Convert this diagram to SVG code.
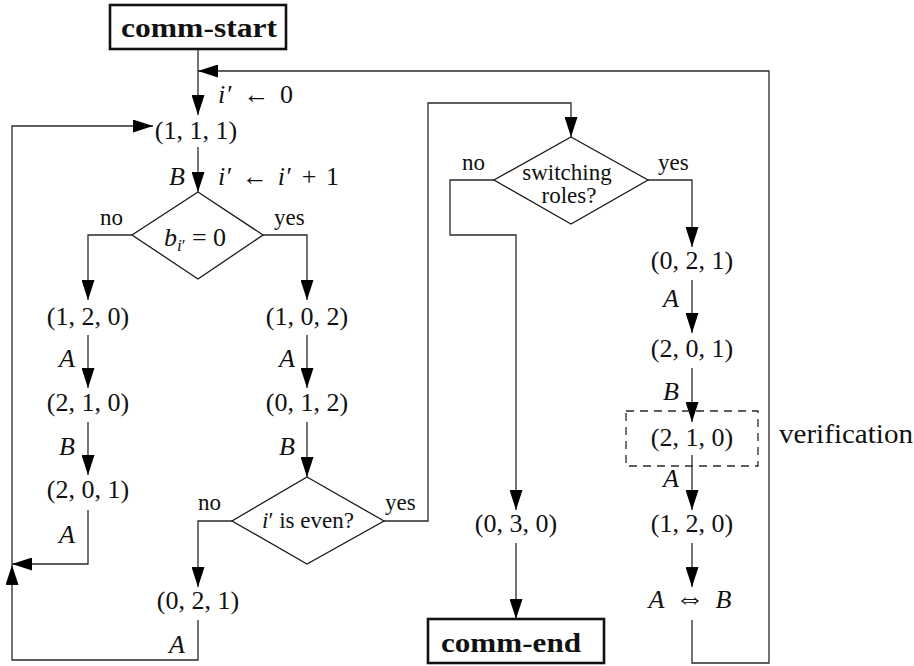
<svg xmlns="http://www.w3.org/2000/svg" width="914" height="666" viewBox="0 0 914 666" font-family="'Liberation Serif', 'Times New Roman', serif">
  <style>
    .ln { fill: none; stroke: #2a2a2a; stroke-width: 1.3; }
    .arr { marker-end: url(#head); }
    .shape { fill: #ffffff; stroke: #1a1a1a; stroke-width: 1.3; }
    .term { fill: #ffffff; stroke: #111111; stroke-width: 2.6; }
    .dash { fill: none; stroke: #2a2a2a; stroke-width: 1.3; stroke-dasharray: 8 6; }
    text { font-family: 'Liberation Serif', 'Times New Roman', serif; fill: #111111; }
    .tup { font-size: 26px; text-anchor: middle; }
    .lab { font-size: 26px; font-style: italic; text-anchor: end; }
    .yn { font-size: 23px; }
    .cond { font-size: 23px; text-anchor: middle; }
    .bold { font-size: 27px; font-weight: bold; text-anchor: middle; }
    .it { font-style: italic; }
  </style>
  <defs>
    <marker id="head" markerUnits="userSpaceOnUse" markerWidth="20" markerHeight="13" refX="20" refY="6.5" orient="auto">
      <path d="M0,0 L20,6.5 L0,13 Z" fill="#000000"/>
    </marker>
  </defs>

  <!-- connectors -->
  <g id="connectors">
    <path class="ln arr" d="M198,49 V115"/>
    <path class="ln arr" d="M692,620 V663 H769 V71 H198"/>
    <path class="ln arr" d="M12,565 V126 H153"/>
    <path class="ln arr" d="M198,620 V660 H12 V565"/>
    <path class="ln arr" d="M88,510 V564 H12"/>
    <path class="ln arr" d="M198,147 V192"/>
    <path class="ln arr" d="M132,235 H88 V300"/>
    <path class="ln arr" d="M263,235 H307 V300"/>
    <path class="ln arr" d="M88,335 V388"/>
    <path class="ln arr" d="M88,422 V475"/>
    <path class="ln arr" d="M307,335 V388"/>
    <path class="ln arr" d="M307,422 V477"/>
    <path class="ln arr" d="M232,521 H198 V587"/>
    <path class="ln arr" d="M384,521 H428 V103 H571 V137"/>
    <path class="ln arr" d="M494,180 H450 V235 H516 V510"/>
    <path class="ln arr" d="M516,543 V619"/>
    <path class="ln arr" d="M648,180 H692 V247"/>
    <path class="ln arr" d="M692,280 V333"/>
    <path class="ln arr" d="M692,368 V422"/>
    <path class="ln arr" d="M692,455 V510"/>
    <path class="ln arr" d="M692,543 V587"/>
  </g>

  <!-- edge labels -->
  <g id="edge-labels">
    <text x="218" y="103" font-size="26" textLength="75"><tspan class="it">i</tspan>′ ← 0</text>
    <text class="lab" x="185" y="185">B</text>
    <text x="218" y="185" font-size="26" textLength="121"><tspan class="it">i</tspan>′ ← <tspan class="it">i</tspan>′ + 1</text>
    <text class="yn" x="100" y="225">no</text>
    <text class="yn" x="274" y="225">yes</text>
    <text class="lab" x="75" y="367">A</text>
    <text class="lab" x="75" y="455">B</text>
    <text class="lab" x="75" y="543">A</text>
    <text class="lab" x="295" y="367">A</text>
    <text class="lab" x="295" y="455">B</text>
    <text class="yn" x="198" y="510">no</text>
    <text class="yn" x="385" y="510">yes</text>
    <text class="lab" x="185" y="653">A</text>
    <text class="yn" x="462" y="170">no</text>
    <text class="yn" x="658" y="170">yes</text>
    <text class="lab" x="679" y="307">A</text>
    <text class="lab" x="679" y="400">B</text>
    <text class="lab" x="679" y="487">A</text>
  </g>

  <g id="comm-start">
    <rect class="term" x="110" y="5" width="176" height="44"/>
    <text class="bold" x="199" y="37" textLength="156" lengthAdjust="spacingAndGlyphs">comm-start</text>
  </g>

  <g id="s111">
    <text class="tup" x="196" y="139">(1, 1, 1)</text>
  </g>

  <g id="check-bit">
    <polygon class="shape" points="198,192 263,235 198,279 132,235"/>
    <text x="164" y="246" font-size="26"><tspan class="it">b</tspan><tspan class="it" font-size="17" dy="5">i</tspan><tspan font-size="17">′</tspan><tspan dy="-5"> = 0</tspan></text>
  </g>

  <g id="s120">
    <text class="tup" x="88" y="325">(1, 2, 0)</text>
  </g>
  <g id="s210">
    <text class="tup" x="88" y="411">(2, 1, 0)</text>
  </g>
  <g id="s201">
    <text class="tup" x="88" y="498">(2, 0, 1)</text>
  </g>

  <g id="s102">
    <text class="tup" x="307" y="325">(1, 0, 2)</text>
  </g>
  <g id="s012">
    <text class="tup" x="307" y="411">(0, 1, 2)</text>
  </g>

  <g id="check-even">
    <polygon class="shape" points="307,477 384,521 307,564 232,521"/>
    <text class="cond" x="308" y="528" font-size="24"><tspan class="it">i</tspan>′ is even?</text>
  </g>

  <g id="s021-left">
    <text class="tup" x="198" y="609">(0, 2, 1)</text>
  </g>

  <g id="check-switch">
    <polygon class="shape" points="571,137 648,180 571,224 494,180"/>
    <text class="cond" x="567" y="180">switching</text>
    <text class="cond" x="569" y="203">roles?</text>
  </g>

  <g id="s030">
    <text class="tup" x="516" y="532">(0, 3, 0)</text>
  </g>

  <g id="comm-end">
    <rect class="term" x="428" y="619" width="176" height="44"/>
    <text class="bold" x="511" y="652" textLength="140" lengthAdjust="spacingAndGlyphs">comm-end</text>
  </g>

  <g id="s021-right">
    <text class="tup" x="692" y="269">(0, 2, 1)</text>
  </g>
  <g id="s201-right">
    <text class="tup" x="692" y="357">(2, 0, 1)</text>
  </g>
  <g id="verification">
    <rect class="dash" x="626" y="411" width="132" height="55"/>
    <text class="tup" x="692" y="446">(2, 1, 0)</text>
    <text x="779" y="443" font-size="27" textLength="134" lengthAdjust="spacingAndGlyphs">verification</text>
  </g>
  <g id="s120-right">
    <text class="tup" x="692" y="532">(1, 2, 0)</text>
  </g>
  <g id="swap">
    <text x="690" y="608" font-size="26" text-anchor="middle" textLength="83"><tspan class="it">A</tspan> <tspan font-size="30">⇔</tspan> <tspan class="it">B</tspan></text>
  </g>
</svg>
